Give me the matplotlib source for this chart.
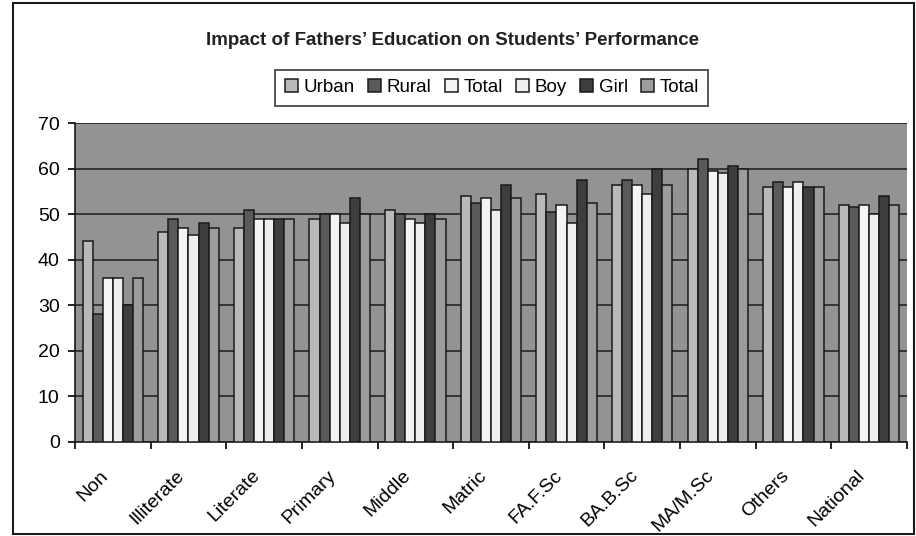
import matplotlib
matplotlib.use("Agg")
import matplotlib.pyplot as plt
import matplotlib.transforms as mtransforms
import numpy as np
from matplotlib.patches import Rectangle

plt.rcParams['font.family'] = ['Liberation Sans', 'DejaVu Sans']

categories = ["Non", "Illiterate", "Literate", "Primary", "Middle", "Matric",
              "FA.F.Sc", "BA.B.Sc", "MA/M.Sc", "Others", "National"]
series_names = ["Urban", "Rural", "Total", "Boy", "Girl", "Total"]
urban = [44, 46, 47, 49, 51, 54, 54.5, 56.5, 60, 56, 52]
rural = [28, 49, 51, 50, 50, 52.5, 50.5, 57.5, 62, 57, 51.5]
total_area = [36, 47, 49, 50, 49, 53.5, 52, 56.5, 59.5, 56, 52]
boy = [36, 45.5, 49, 48, 48, 51, 48, 54.5, 59, 57, 50]
girl = [30, 48, 49, 53.5, 50, 56.5, 57.5, 60, 60.5, 56, 54]
total_gender = [36, 47, 49, 50, 49, 53.5, 52.5, 56.5, 60, 56, 52]
yticks = [0, 10, 20, 30, 40, 50, 60, 70]

series = [urban, rural, total_area, boy, girl, total_gender]
colors = ["#b9b9b9", "#5a5a5a", "#f4f4f4", "#eeeeee", "#3e3e3e", "#9c9c9c"]

fig = plt.figure(figsize=(9.16, 5.36), dpi=100)
fig.patch.set_facecolor("white")
ax = fig.add_axes([0.0819, 0.1754, 0.9081, 0.5951])
ax.set_facecolor("#939393")

n = len(series)
gap = 1.5
w = 1.0 / (n + gap)
x = np.arange(len(categories))
handles = []
for k, (vals, c, name) in enumerate(zip(series, colors, series_names)):
    pos = x - 0.5 + w * (gap / 2 + 0.5 + k)
    b = ax.bar(pos, vals, width=w, color=c, edgecolor="#1a1a1a",
               linewidth=1.1, label=name, zorder=3)
    handles.append(b)

ax.set_xlim(-0.5, len(categories) - 0.5)
ax.set_ylim(0, 70)
ax.set_yticks(yticks)
ax.set_yticklabels([str(t) for t in yticks], fontsize=14)
ax.yaxis.grid(True, color="#1a1a1a", linewidth=1.1, zorder=1)
ax.set_axisbelow(True)

# ticks between categories, labels at category centers
ax.set_xticks(np.arange(-0.5, len(categories), 1.0))
ax.set_xticklabels([])
ax.set_xticks(x, minor=True)
ax.set_xticklabels(categories, minor=True, rotation=45, ha="right",
                   rotation_mode="anchor", fontsize=14)
ax.tick_params(axis="x", which="minor", length=0, pad=18)
ax.tick_params(axis="x", which="major", length=5, width=1.2, direction="out")
ax.tick_params(axis="y", length=5, width=1.2, direction="out", pad=6)
offset = mtransforms.ScaledTranslation(-13 / 100, 0, fig.dpi_scale_trans)
for lbl in ax.get_xticklabels(minor=True):
    lbl.set_transform(lbl.get_transform() + offset)
for s in ax.spines.values():
    s.set_linewidth(1.2)
    s.set_color("#1a1a1a")
ax.spines["top"].set_visible(False)
ax.spines["right"].set_visible(False)

fig.text(0.4935, 0.925, "Impact of Fathers\u2019 Education on Students\u2019 Performance",
         ha="center", va="center", fontsize=13.5, fontweight="bold", color="#222222")

leg = fig.legend(handles=handles, labels=series_names, loc="center",
                 bbox_to_anchor=(0.537, 0.836), ncol=6, fontsize=13.5,
                 frameon=True, fancybox=False, edgecolor="#1a1a1a",
                 handlelength=0.7, handleheight=0.7, handletextpad=0.3,
                 columnspacing=0.7, borderpad=0.5)
leg.get_frame().set_linewidth(1.3)

fig.patches.append(Rectangle((0.014, 0.004), 0.984, 0.99, transform=fig.transFigure,
                             fill=False, edgecolor="#1a1a1a", linewidth=1.5))

fig.savefig("out.png", dpi=100)
